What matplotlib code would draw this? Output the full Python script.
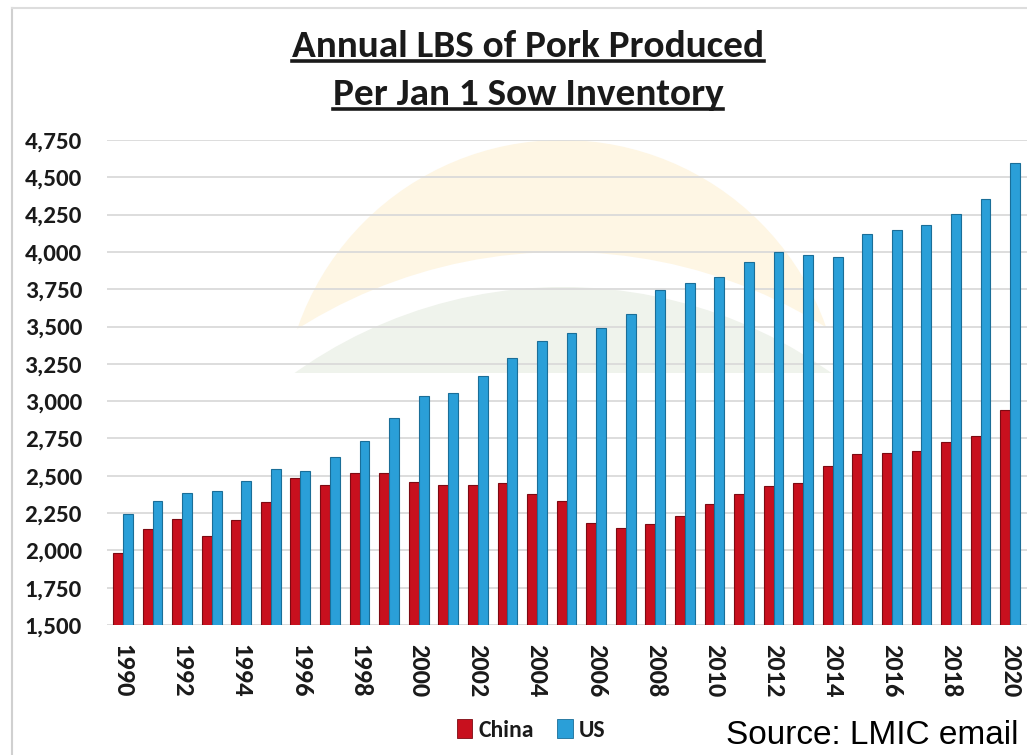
import matplotlib
matplotlib.use("Agg")
import matplotlib.pyplot as plt
from matplotlib import font_manager
from matplotlib.patches import Circle, Rectangle, Patch
from matplotlib.lines import Line2D
from matplotlib.ticker import FuncFormatter, MultipleLocator
import numpy as np

# ---- data -------------------------------------------------------------
years = list(range(1990, 2021))
china = [1980, 2143, 2210, 2096, 2203, 2326, 2487, 2436, 2516, 2520,
         2460, 2440, 2436, 2453, 2376, 2333, 2181, 2152, 2175, 2230,
         2309, 2380, 2431, 2453, 2565, 2646, 2650, 2668, 2728, 2766, 2940]
us = [2244, 2333, 2382, 2400, 2467, 2547, 2530, 2626, 2733, 2889,
      3034, 3053, 3168, 3291, 3405, 3455, 3492, 3584, 3743, 3790,
      3834, 3935, 4002, 3980, 3968, 4118, 4147, 4178, 4254, 4357, 4594]
series_names = ["China", "US"]
title_lines = ["Annual LBS of Pork Produced", "Per Jan 1 Sow Inventory"]
source_text = "Source: LMIC email"

# ---- fonts ------------------------------------------------------------
installed = {f.name for f in font_manager.fontManager.ttflist}


def pick(*names):
    for n in names:
        if n in installed:
            return n
    return "DejaVu Sans"


bold_font = pick("Carlito", "Lato", "Open Sans")
narrow_font = pick("Liberation Sans Narrow", "Liberation Sans", "Roboto")

RED, RED_EDGE = "#c8101e", "#7d0a12"
BLUE, BLUE_EDGE = "#2a9fd8", "#1a6e98"
INK = "#1a1a1a"

W, H = 1027, 755
fig = plt.figure(figsize=(W / 100, H / 100), dpi=100)

# ---- faint background emblem (pixel coordinates) ----------------------
bg = fig.add_axes([0, 0, 1, 1], zorder=0)
bg.set_xlim(0, W)
bg.set_ylim(H, 0)
bg.axis("off")
clip = Rectangle((0, 0), W, 373, transform=bg.transData)
for patch in (Circle((562, 420), 280, color="#fef6e4", lw=0),
              Circle((563, 749), 497, color="white", lw=0),
              Circle((563, 749), 462, color="#eff3ec", lw=0)):
    bg.add_patch(patch)
    patch.set_clip_path(clip)

# outer picture frame
bg.add_line(Line2D([12, 12], [8, H], color="#d0d0d0", lw=1.5))
bg.add_line(Line2D([12, W], [8, 8], color="#dddddd", lw=1.5))

# ---- bar chart --------------------------------------------------------
ax = fig.add_axes([107 / W, 130 / H, (W - 107) / W, 485 / H], zorder=1)
ax.patch.set_alpha(0)
x = np.arange(len(years))
bw = 0.335
ax.bar(x - bw / 2, china, bw, bottom=0, color=RED, edgecolor=RED_EDGE,
       linewidth=0.8, label=series_names[0], zorder=3)
ax.bar(x + bw / 2, us, bw, bottom=0, color=BLUE, edgecolor=BLUE_EDGE,
       linewidth=0.8, label=series_names[1], zorder=3)

ax.set_ylim(1500, 4750)
ax.set_xlim(-0.54, 30.57)
ax.yaxis.set_major_locator(MultipleLocator(250))
ax.yaxis.set_major_formatter(FuncFormatter(lambda v, p: f"{int(v):,}"))
ax.grid(axis="y", color="#dadada", lw=1.3, zorder=0)
ax.set_axisbelow(True)
for s in ax.spines.values():
    s.set_visible(False)
ax.tick_params(length=0)
ax.tick_params(axis="y", pad=18)
ax.tick_params(axis="x", pad=14)

even = [i for i, y in enumerate(years) if y % 2 == 0]
ax.set_xticks(even)
ax.set_xticklabels([str(years[i]) for i in even], rotation=-90,
                   fontsize=19, fontweight="heavy", family=bold_font,
                   color=INK)
for lab in ax.get_yticklabels():
    lab.set_fontsize(18)
    lab.set_fontweight("heavy")
    lab.set_family(bold_font)
    lab.set_color(INK)

# ---- title with underlines --------------------------------------------
t1 = fig.text(528 / W, 1 - 57 / H, title_lines[0], ha="center",
              va="baseline", fontsize=28.3, fontweight="bold",
              family=bold_font, color=INK)
t2 = fig.text(528 / W, 1 - 105 / H, title_lines[1], ha="center",
              va="baseline", fontsize=28.3, fontweight="bold",
              family=bold_font, color=INK)
fig.canvas.draw()
r = fig.canvas.get_renderer()
for t, yline in ((t1, 61), (t2, 109)):
    bb = t.get_window_extent(r)
    bg.add_line(Line2D([bb.x0, bb.x1], [yline, yline], color=INK, lw=2.6))

# ---- legend and source -------------------------------------------------
handles = [Patch(facecolor=RED, edgecolor=RED_EDGE, lw=0.6),
           Patch(facecolor=BLUE, edgecolor=BLUE_EDGE, lw=0.6)]
leg = fig.legend(handles, series_names, loc="center",
                 bbox_to_anchor=(531 / W, 1 - 730 / H), ncol=2,
                 frameon=False, handlelength=0.65, handleheight=0.85,
                 handletextpad=0.25, columnspacing=1.0,
                 prop={"family": bold_font, "weight": "bold", "size": 17})
for txt in leg.get_texts():
    txt.set_color(INK)

fig.text(1018 / W, 1 - 744 / H, source_text, ha="right", va="baseline",
         fontsize=24, family=narrow_font, color="black")

fig.savefig("out.png", dpi=100)
